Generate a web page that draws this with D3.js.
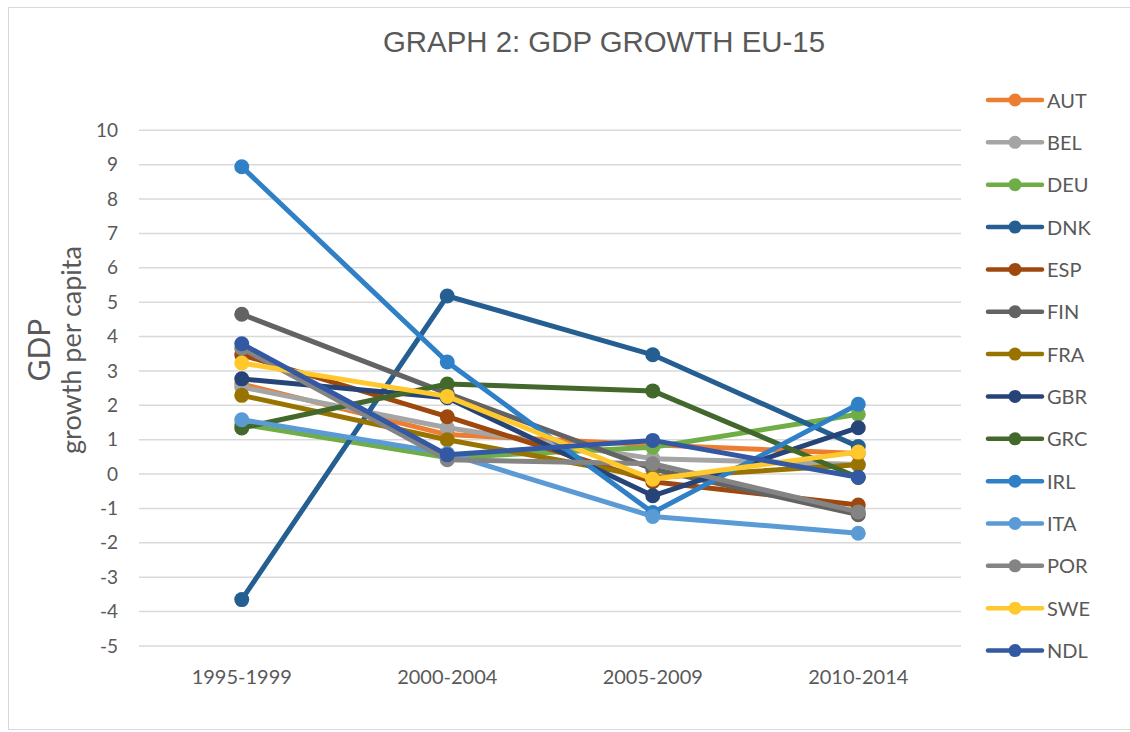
<!DOCTYPE html>
<html>
<head>
<meta charset="utf-8">
<script src="https://cdn.jsdelivr.net/npm/d3@7/dist/d3.min.js"></script>
<style>
  html, body { margin: 0; padding: 0; background: #fff; }
  svg { display: block; }
  text { font-family: "Liberation Sans", Arial, sans-serif; fill: #595959; }
</style>
</head>
<body>
<svg id="chart" width="1130" height="732"></svg>
<script>
// Periods on the x axis
const periods = ["1995-1999", "2000-2004", "2005-2009", "2010-2014"];

// GDP growth per capita (%) for each country, per period
const AUT = [2.62, 1.15, 0.85, 0.60];
const BEL = [2.53, 1.35, 0.45, 0.28];
const DEU = [1.45, 0.48, 0.78, 1.74];
const DNK = [-3.65, 5.18, 3.47, 0.80];
const ESP = [3.47, 1.67, -0.22, -0.90];
const FIN = [4.65, 2.35, 0.15, -1.18];
const FRA = [2.29, 1.00, -0.10, 0.27];
const GBR = [2.77, 2.22, -0.63, 1.35];
const GRC = [1.34, 2.62, 2.42, -0.10];
const IRL = [8.94, 3.26, -1.12, 2.03];
const ITA = [1.58, 0.60, -1.23, -1.72];
const POR = [3.66, 0.42, 0.30, -1.10];
const SWE = [3.23, 2.26, -0.15, 0.64];
const NDL = [3.79, 0.56, 0.98, -0.09];

const countries = ["AUT", "BEL", "DEU", "DNK", "ESP", "FIN", "FRA", "GBR", "GRC", "IRL", "ITA", "POR", "SWE", "NDL"];
const seriesValues = [AUT, BEL, DEU, DNK, ESP, FIN, FRA, GBR, GRC, IRL, ITA, POR, SWE, NDL];
const colors = ["#ED7D31", "#A5A5A5", "#70AD47", "#255E91", "#9E480E", "#636363", "#997300",
                "#264478", "#43682B", "#3080C8", "#5B9BD5", "#848484", "#FFC82C", "#3358A4"];
const yTicks = d3.range(-5, 11, 1);

const series = countries.map((c, i) => ({ name: c, values: seriesValues[i], color: colors[i] }));

const svg = d3.select("#chart");

// chart frame
svg.append("rect")
  .attr("x", 8.5).attr("y", 7.5)
  .attr("width", 1135).attr("height", 722)
  .attr("fill", "#fff").attr("stroke", "#d9d9d9").attr("stroke-width", 1);

const plot = { left: 139, right: 961, top: 130.3, bottom: 646 };

const x = d3.scaleBand().domain(periods).range([plot.left, plot.right]);
const y = d3.scaleLinear().domain([-5, 10]).range([plot.bottom, plot.top]);

// horizontal gridlines
svg.append("g")
  .selectAll("line")
  .data(yTicks)
  .join("line")
  .attr("x1", plot.left).attr("x2", plot.right)
  .attr("y1", d => y(d)).attr("y2", d => y(d))
  .attr("stroke", "#d9d9d9").attr("stroke-width", 1.5);

// y axis labels (plain hyphen for negatives)
const yAxis = d3.axisLeft(y).tickValues(yTicks).tickSize(0).tickPadding(0).tickFormat(d => String(d));
const gy = svg.append("g").attr("transform", "translate(118,0)").call(yAxis);
gy.select(".domain").remove();
gy.selectAll("text")
  .attr("font-size", 19)
  .style("font-family", "Lato, 'Open Sans', sans-serif")
  .attr("fill", "#595959");

// x axis labels
const xAxis = d3.axisBottom(x).tickSize(0).tickPadding(0);
const gx = svg.append("g").attr("transform", "translate(0,670)").call(xAxis);
gx.select(".domain").remove();
gx.selectAll("text")
  .attr("font-size", 20)
  .style("font-family", "Lato, 'Liberation Sans', sans-serif")
  .attr("fill", "#595959");

// y axis title
const yt = svg.append("text")
  .attr("transform", "translate(0,350) rotate(-90)")
  .attr("text-anchor", "middle")
  .style("font-family", "Lato, 'Open Sans', sans-serif");
yt.append("tspan").attr("x", 0).attr("y", 50).attr("font-size", 30).text("GDP");
yt.append("tspan").attr("x", 0).attr("y", 81).attr("font-size", 27).text("growth per capita");

// title
svg.append("text")
  .attr("x", 604).attr("y", 52)
  .attr("text-anchor", "middle")
  .attr("font-size", 29)
  .attr("textLength", 442)
  .attr("lengthAdjust", "spacingAndGlyphs")
  .text("GRAPH 2: GDP GROWTH EU-15");

// series lines and markers
const cx = (i) => x(periods[i]) + x.bandwidth() / 2;
const line = d3.line().x((d, i) => cx(i)).y(d => y(d));

const gSeries = svg.append("g")
  .selectAll("g")
  .data(series)
  .join("g");

gSeries.append("path")
  .attr("d", d => line(d.values))
  .attr("fill", "none")
  .attr("stroke", d => d.color)
  .attr("stroke-width", 5)
  .attr("stroke-linejoin", "round")
  .attr("stroke-linecap", "round");

gSeries.selectAll("circle")
  .data(d => d.values.map(v => ({ v, color: d.color })))
  .join("circle")
  .attr("cx", (d, i) => cx(i))
  .attr("cy", d => y(d.v))
  .attr("r", 7.5)
  .attr("fill", d => d.color);

// legend
const legend = svg.append("g")
  .selectAll("g")
  .data(series)
  .join("g")
  .attr("transform", (d, i) => `translate(988,${100 + i * 42.35})`);

legend.append("line")
  .attr("x1", 0).attr("x2", 54)
  .attr("stroke", d => d.color).attr("stroke-width", 4.5)
  .attr("stroke-linecap", "round");
legend.append("circle")
  .attr("cx", 27).attr("r", 6.5)
  .attr("fill", d => d.color);
legend.append("text")
  .attr("x", 59).attr("y", 7.5)
  .attr("font-size", 20)
  .style("font-family", "Lato, 'Open Sans', sans-serif")
  .text(d => d.name);
</script>
</body>
</html>
